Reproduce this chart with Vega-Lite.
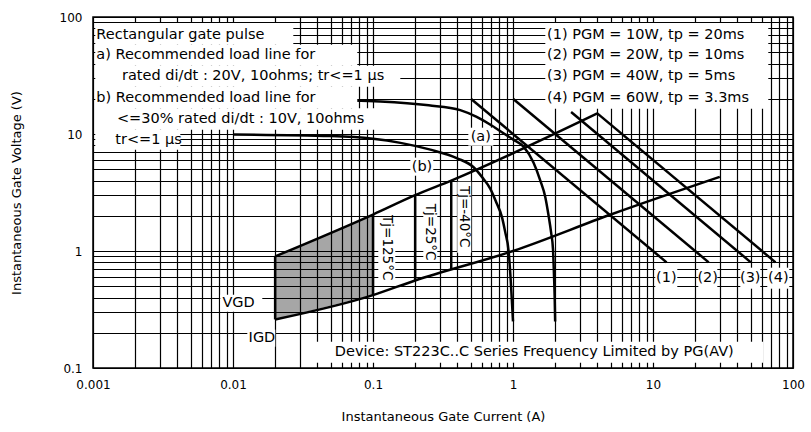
{
  "$schema": "https://vega.github.io/schema/vega-lite/v6.json",
  "width": 700,
  "height": 351,
  "autosize": "none",
  "padding": {"left": 93, "top": 17, "right": 18, "bottom": 64},
  "background": "white",
  "config": {
    "view": {"stroke": "black", "strokeWidth": 1.5},
    "font": "DejaVu Sans"
  },
  "datasets": {
    "trap": [
      {"I": 0.02, "V": 0.26, "V2": 0.9},
      {"I": 0.1, "V": 0.42, "V2": 2.05}
    ],
    "lines": [
      {"id": "a", "k": 1, "I": 0.01, "V": 19.9},
      {"id": "a", "k": 2, "I": 0.03, "V": 19.7},
      {"id": "a", "k": 3, "I": 0.06, "V": 19.4},
      {"id": "a", "k": 4, "I": 0.113, "V": 19.0},
      {"id": "a", "k": 5, "I": 0.25, "V": 17.6},
      {"id": "a", "k": 6, "I": 0.42, "V": 16.0},
      {"id": "a", "k": 7, "I": 0.55, "V": 14.0},
      {"id": "a", "k": 8, "I": 0.69, "V": 12.0},
      {"id": "a", "k": 9, "I": 0.85, "V": 10.2},
      {"id": "a", "k": 10, "I": 1.0, "V": 9.0},
      {"id": "a", "k": 11, "I": 1.19, "V": 7.8},
      {"id": "a", "k": 12, "I": 1.4, "V": 5.7},
      {"id": "a", "k": 13, "I": 1.567, "V": 4.0},
      {"id": "a", "k": 14, "I": 1.7, "V": 2.9},
      {"id": "a", "k": 15, "I": 1.796, "V": 2.0},
      {"id": "a", "k": 16, "I": 1.87, "V": 1.45},
      {"id": "a", "k": 17, "I": 1.931, "V": 1.03},
      {"id": "a", "k": 18, "I": 1.96, "V": 0.65},
      {"id": "a", "k": 19, "I": 1.985, "V": 0.4},
      {"id": "a", "k": 20, "I": 2.0, "V": 0.25},
      {"id": "b", "k": 1, "I": 0.01, "V": 9.9},
      {"id": "b", "k": 2, "I": 0.05, "V": 9.6},
      {"id": "b", "k": 3, "I": 0.1, "V": 9.1},
      {"id": "b", "k": 4, "I": 0.157, "V": 8.4},
      {"id": "b", "k": 5, "I": 0.257, "V": 7.35},
      {"id": "b", "k": 6, "I": 0.4, "V": 6.2},
      {"id": "b", "k": 7, "I": 0.523, "V": 5.2},
      {"id": "b", "k": 8, "I": 0.6, "V": 4.3},
      {"id": "b", "k": 9, "I": 0.689, "V": 3.4},
      {"id": "b", "k": 10, "I": 0.76, "V": 2.6},
      {"id": "b", "k": 11, "I": 0.834, "V": 1.95},
      {"id": "b", "k": 12, "I": 0.88, "V": 1.45},
      {"id": "b", "k": 13, "I": 0.93, "V": 1.0},
      {"id": "b", "k": 14, "I": 0.96, "V": 0.6},
      {"id": "b", "k": 15, "I": 0.985, "V": 0.35},
      {"id": "b", "k": 16, "I": 1.0, "V": 0.25},
      {"id": "upper", "k": 1, "I": 0.02, "V": 0.9},
      {"id": "upper", "k": 2, "I": 0.1, "V": 2.05},
      {"id": "upper", "k": 3, "I": 0.2, "V": 3.0},
      {"id": "upper", "k": 4, "I": 0.362, "V": 4.0},
      {"id": "upper", "k": 5, "I": 4, "V": 15},
      {"id": "lower", "k": 1, "I": 0.02, "V": 0.26},
      {"id": "lower", "k": 2, "I": 0.1, "V": 0.42},
      {"id": "lower", "k": 3, "I": 0.2, "V": 0.56},
      {"id": "lower", "k": 4, "I": 1, "V": 1.0},
      {"id": "lower", "k": 5, "I": 5, "V": 2.05},
      {"id": "lower", "k": 6, "I": 30, "V": 4.3},
      {"id": "left", "k": 1, "I": 0.02, "V": 0.26},
      {"id": "left", "k": 2, "I": 0.02, "V": 0.9},
      {"id": "t125", "k": 1, "I": 0.1, "V": 0.42},
      {"id": "t125", "k": 2, "I": 0.1, "V": 2.05},
      {"id": "t25", "k": 1, "I": 0.2, "V": 0.56},
      {"id": "t25", "k": 2, "I": 0.2, "V": 3.0},
      {"id": "t40", "k": 1, "I": 0.362, "V": 0.693},
      {"id": "t40", "k": 2, "I": 0.362, "V": 4.0},
      {"id": "p1", "k": 1, "I": 0.5, "V": 20},
      {"id": "p1", "k": 2, "I": 12.5, "V": 0.8},
      {"id": "p2", "k": 1, "I": 1, "V": 20},
      {"id": "p2", "k": 2, "I": 25, "V": 0.8},
      {"id": "p3", "k": 1, "I": 2.6, "V": 15.4},
      {"id": "p3", "k": 2, "I": 50, "V": 0.8},
      {"id": "p4", "k": 1, "I": 4, "V": 15},
      {"id": "p4", "k": 2, "I": 75, "V": 0.8}
    ],
    "boxes": [
      {"I": 0.001038, "I2": 0.02696, "V": 58.0, "V2": 89.0},
      {"I": 0.001038, "I2": 0.07723, "V": 38.35, "V2": 58.0},
      {"I": 0.001038, "I2": 0.1567, "V": 25.37, "V2": 38.35},
      {"I": 0.001038, "I2": 0.07723, "V": 16.62, "V2": 25.37},
      {"I": 0.001038, "I2": 0.1091, "V": 10.88, "V2": 16.62},
      {"I": 0.001038, "I2": 0.004204, "V": 7.34, "V2": 10.88},
      {"I": 1.701, "I2": 66.6, "V": 16.45, "V2": 89.0},
      {"I": 0.4796, "I2": 0.7236, "V": 7.94, "V2": 11.32},
      {"I": 0.1847, "I2": 0.2696, "V": 4.40, "V2": 6.28},
      {"I": 0.1091, "I2": 0.1443, "V": 0.5465, "V2": 1.925},
      {"I": 0.2287, "I2": 0.2879, "V": 0.81, "V2": 2.587},
      {"I": 0.40, "I2": 0.5036, "V": 0.967, "V2": 3.91},
      {"I": 10.38, "I2": 14.91, "V": 0.4763, "V2": 0.72},
      {"I": 21.06, "I2": 28.8, "V": 0.4763, "V2": 0.72},
      {"I": 42.03, "I2": 58.4, "V": 0.4763, "V2": 0.72},
      {"I": 65.5, "I2": 94.1, "V": 0.4763, "V2": 0.72},
      {"I": 0.008113, "I2": 0.01619, "V": 0.3029, "V2": 0.4232},
      {"I": 0.01265, "I2": 0.02005, "V": 0.152, "V2": 0.2126},
      {"I": 0.03284, "I2": 61.37, "V": 0.111, "V2": 0.1678}
    ],
    "texts": [
      {"kind": "L", "I": 0.001056, "V": 70.6, "txt": "Rectangular gate pulse"},
      {"kind": "L", "I": 0.001056, "V": 46.97, "txt": "a) Recommended load line for"},
      {"kind": "L", "I": 0.001611, "V": 31.07, "txt": "rated di/dt : 20V, 10ohms; tr<=1 µs"},
      {"kind": "L", "I": 0.001056, "V": 20.31, "txt": "b) Recommended load line for"},
      {"kind": "L", "I": 0.001483, "V": 13.43, "txt": "<=30% rated di/dt : 10V, 10ohms"},
      {"kind": "L", "I": 0.001443, "V": 8.94, "txt": "tr<=1 µs"},
      {"kind": "L", "I": 1.75, "V": 70.6, "txt": "(1) PGM = 10W, tp = 20ms"},
      {"kind": "L", "I": 1.75, "V": 46.97, "txt": "(2) PGM = 20W, tp = 10ms"},
      {"kind": "L", "I": 1.75, "V": 31.07, "txt": "(3) PGM = 40W, tp = 5ms"},
      {"kind": "L", "I": 1.75, "V": 20.31, "txt": "(4) PGM = 60W, tp = 3.3ms"},
      {"kind": "C", "I": 0.5888, "V": 9.48, "txt": "(a)"},
      {"kind": "C", "I": 0.2239, "V": 5.254, "txt": "(b)"},
      {"kind": "C", "I": 12.44, "V": 0.5877, "txt": "(1)"},
      {"kind": "C", "I": 24.6, "V": 0.5877, "txt": "(2)"},
      {"kind": "C", "I": 49.5, "V": 0.5877, "txt": "(3)"},
      {"kind": "C", "I": 78.5, "V": 0.5877, "txt": "(4)"},
      {"kind": "C", "I": 0.01096, "V": 0.3594, "txt": "VGD"},
      {"kind": "C", "I": 0.0161, "V": 0.1805, "txt": "IGD"},
      {"kind": "C", "I": 1.419, "V": 0.1378, "txt": "Device: ST223C..C Series Frequency Limited by PG(AV)"},
      {"kind": "R", "I": 0.1259, "V": 1.067, "txt": "Tj=125°C"},
      {"kind": "R", "I": 0.2566, "V": 1.448, "txt": "Tj=25°C"},
      {"kind": "R", "I": 0.4453, "V": 1.965, "txt": "Tj=-40°C"}
    ]
  },
  "layer": [
    {
      "data": {"name": "trap"},
      "mark": {"type": "area", "color": "black", "opacity": 0.35},
      "encoding": {
        "x": {
          "field": "I", "type": "quantitative",
          "scale": {"type": "log", "domain": [0.001, 100], "nice": false},
          "axis": {
            "title": "Instantaneous Gate Current (A)",
            "values": [0.001,0.002,0.003,0.004,0.005,0.006,0.007,0.008,0.009,0.01,0.02,0.03,0.04,0.05,0.06,0.07,0.08,0.09,0.1,0.2,0.3,0.4,0.5,0.6,0.7,0.8,0.9,1,2,3,4,5,6,7,8,9,10,20,30,40,50,60,70,80,90,100],
            "labelExpr": "indexof([0.001,0.01,0.1,1,10,100], datum.value) >= 0 ? format(datum.value, '~g') : ''",
            "grid": true, "gridColor": "black", "gridWidth": 1.2, "gridOpacity": 1,
            "domain": false, "ticks": false,
            "labelFont": "DejaVu Sans", "labelFontSize": 12, "labelColor": "black",
            "labelPadding": 11, "labelFlush": false, "labelOverlap": false, "labelBound": false,
            "titleFont": "DejaVu Sans", "titleFontSize": 13, "titleFontWeight": "normal", "titleColor": "black",
            "titlePadding": 20
          }
        },
        "y": {
          "field": "V", "type": "quantitative",
          "scale": {"type": "log", "domain": [0.1, 100], "nice": false},
          "axis": {
            "title": "Instantaneous Gate Voltage (V)",
            "values": [0.1,0.2,0.3,0.4,0.5,0.6,0.7,0.8,0.9,1,2,3,4,5,6,7,8,9,10,20,30,40,50,60,70,80,90,100],
            "labelExpr": "indexof([0.1,1,10,100], datum.value) >= 0 ? format(datum.value, '~g') : ''",
            "grid": true, "gridColor": "black", "gridWidth": 1.2, "gridOpacity": 1,
            "domain": false, "ticks": false,
            "labelFont": "DejaVu Sans", "labelFontSize": 12, "labelColor": "black",
            "labelPadding": 11, "labelFlush": false, "labelOverlap": false, "labelBound": false,
            "titleFont": "DejaVu Sans", "titleFontSize": 13, "titleFontWeight": "normal", "titleColor": "black",
            "titlePadding": 36
          }
        },
        "y2": {"field": "V2"}
      }
    },
    {
      "data": {"name": "lines"},
      "mark": {"type": "line", "color": "black", "strokeWidth": 2.5, "interpolate": "monotone"},
      "encoding": {
        "x": {"field": "I", "type": "quantitative"},
        "y": {"field": "V", "type": "quantitative"},
        "detail": {"field": "id"},
        "order": {"field": "k"}
      }
    },
    {
      "data": {"name": "boxes"},
      "mark": {"type": "rect", "fill": "white", "stroke": null},
      "encoding": {
        "x": {"field": "I", "type": "quantitative"},
        "x2": {"field": "I2"},
        "y": {"field": "V", "type": "quantitative"},
        "y2": {"field": "V2"}
      }
    },
    {
      "data": {"name": "texts"},
      "transform": [{"filter": "datum.kind == 'L'"}],
      "mark": {"type": "text", "align": "left", "baseline": "middle", "font": "DejaVu Sans", "fontSize": 14.5, "color": "black"},
      "encoding": {
        "x": {"field": "I", "type": "quantitative"},
        "y": {"field": "V", "type": "quantitative"},
        "text": {"field": "txt"}
      }
    },
    {
      "data": {"name": "texts"},
      "transform": [{"filter": "datum.kind == 'C'"}],
      "mark": {"type": "text", "align": "center", "baseline": "middle", "font": "DejaVu Sans", "fontSize": 14.5, "color": "black"},
      "encoding": {
        "x": {"field": "I", "type": "quantitative"},
        "y": {"field": "V", "type": "quantitative"},
        "text": {"field": "txt"}
      }
    },
    {
      "data": {"name": "texts"},
      "transform": [{"filter": "datum.kind == 'R'"}],
      "mark": {"type": "text", "align": "center", "baseline": "middle", "angle": 90, "font": "DejaVu Sans", "fontSize": 13.5, "color": "black"},
      "encoding": {
        "x": {"field": "I", "type": "quantitative"},
        "y": {"field": "V", "type": "quantitative"},
        "text": {"field": "txt"}
      }
    }
  ]
}
